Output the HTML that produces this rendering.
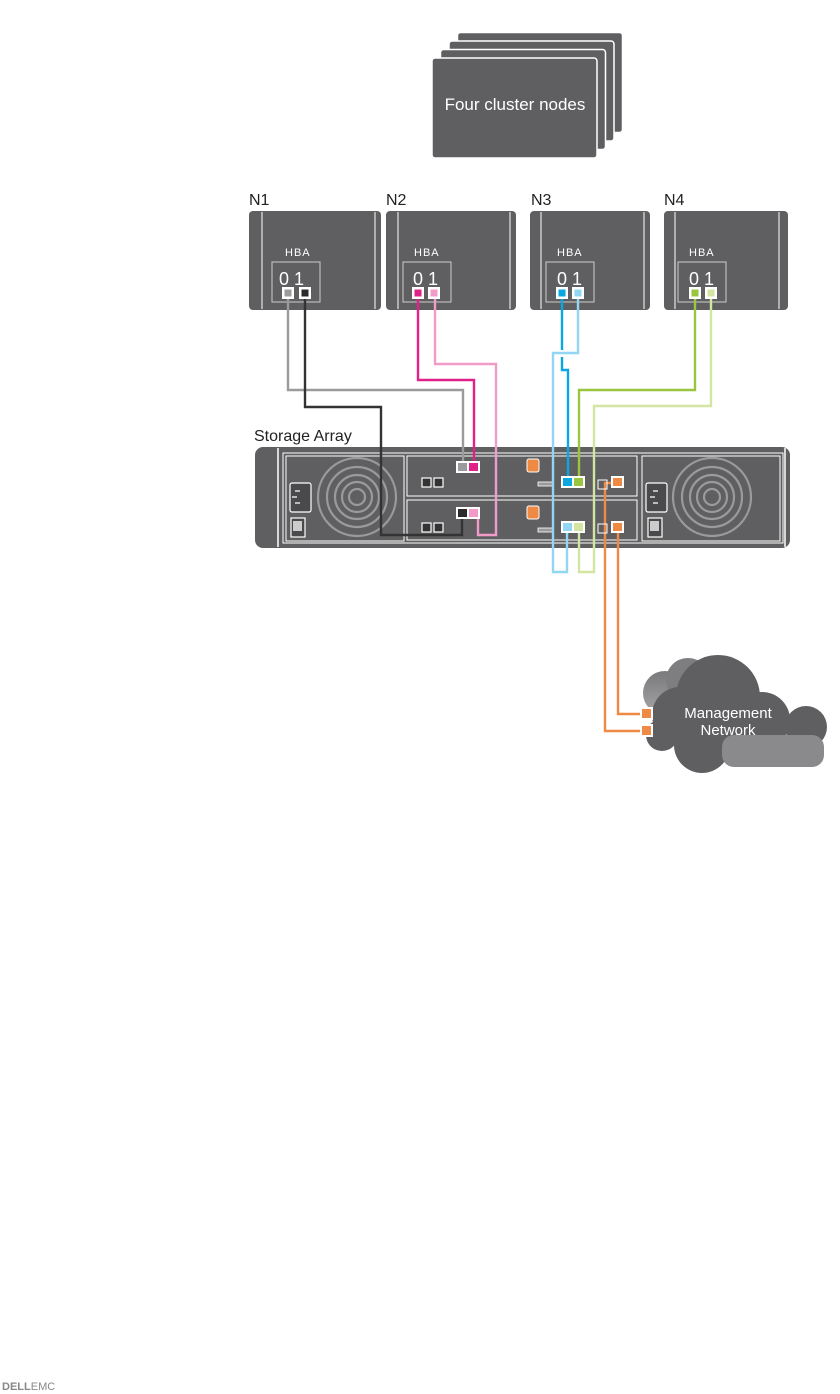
<!DOCTYPE html>
<html><head><style>body{margin:0;background:#fff}svg{display:block}text{font-family:"Liberation Sans",sans-serif}</style></head>
<body>
<svg width="840" height="1394" viewBox="0 0 840 1394" xmlns="http://www.w3.org/2000/svg">
<g fill="#5f5f61" stroke="#fff" stroke-width="1.5">
<rect x="457.5" y="32.5" width="165" height="100" rx="3"/>
<rect x="449" y="41" width="165" height="100" rx="3"/>
<rect x="440.5" y="49.5" width="165" height="100" rx="3"/>
<rect x="432" y="58" width="165" height="100" rx="3"/>
</g>
<text x="515" y="110" font-size="17" fill="#fff" text-anchor="middle">Four cluster nodes</text>

<g font-size="16" fill="#222">
<text x="249" y="205">N1</text><text x="386" y="205">N2</text><text x="531" y="205">N3</text><text x="664" y="205">N4</text>
<text x="254" y="441">Storage Array</text>
</g>

<g id="nodes">
<g><rect x="249" y="211" width="132" height="99" rx="4" fill="#5f5f61"/><path d="M262 212V309M375 212V309" stroke="#fff" stroke-width="1"/><text x="285" y="256" font-size="11" fill="#fff" letter-spacing="1">HBA</text><rect x="272" y="262" width="48" height="40" fill="none" stroke="#ccc" stroke-width="1"/><text x="279" y="285" font-size="18" fill="#fff">0 1</text><rect x="282" y="287" width="12" height="12" fill="#fff"/><rect x="284.5" y="289.5" width="7" height="7" fill="#9b9b9b"/><rect x="299" y="287" width="12" height="12" fill="#fff"/><rect x="301.5" y="289.5" width="7" height="7" fill="#2b2b2b"/></g>
<g><rect x="386" y="211" width="130" height="99" rx="4" fill="#5f5f61"/><path d="M398 212V309M510 212V309" stroke="#fff"/><text x="414" y="256" font-size="11" fill="#fff" letter-spacing="1">HBA</text><rect x="403" y="262" width="48" height="40" fill="none" stroke="#ccc"/><text x="413" y="285" font-size="18" fill="#fff">0 1</text><rect x="412" y="287" width="12" height="12" fill="#fff"/><rect x="414.5" y="289.5" width="7" height="7" fill="#e0218a"/><rect x="428" y="287" width="12" height="12" fill="#fff"/><rect x="430.5" y="289.5" width="7" height="7" fill="#f29bc9"/></g>
<g><rect x="530" y="211" width="120" height="99" rx="4" fill="#5f5f61"/><path d="M541 212V309M644 212V309" stroke="#fff"/><text x="557" y="256" font-size="11" fill="#fff" letter-spacing="1">HBA</text><rect x="546" y="262" width="48" height="40" fill="none" stroke="#ccc"/><text x="557" y="285" font-size="18" fill="#fff">0 1</text><rect x="556" y="287" width="12" height="12" fill="#fff"/><rect x="558.5" y="289.5" width="7" height="7" fill="#0aa7e0"/><rect x="572" y="287" width="12" height="12" fill="#fff"/><rect x="574.5" y="289.5" width="7" height="7" fill="#92d6f3"/></g>
<g><rect x="664" y="211" width="124" height="99" rx="4" fill="#5f5f61"/><path d="M675 212V309M779 212V309" stroke="#fff"/><text x="689" y="256" font-size="11" fill="#fff" letter-spacing="1">HBA</text><rect x="678" y="262" width="48" height="40" fill="none" stroke="#ccc"/><text x="689" y="285" font-size="18" fill="#fff">0 1</text><rect x="689" y="287" width="12" height="12" fill="#fff"/><rect x="691.5" y="289.5" width="7" height="7" fill="#9ac53f"/><rect x="705" y="287" width="12" height="12" fill="#fff"/><rect x="707.5" y="289.5" width="7" height="7" fill="#d3e5a0"/></g>
</g>

<rect x="255" y="447" width="535" height="101" rx="8" fill="#5f5f61"/>
<path d="M278 448V547M785 448V547" stroke="#fff" stroke-width="1.5"/>
<rect x="283" y="453" width="500" height="90" fill="none" stroke="#fff" stroke-width="1"/>
<rect x="286" y="456" width="118" height="85" fill="none" stroke="#fff" stroke-width="1"/>
<rect x="642" y="456" width="138" height="85" fill="none" stroke="#fff" stroke-width="1"/>
<g fill="none" stroke="#9a9a9c" stroke-width="2.2">
<circle cx="357" cy="497" r="8"/><circle cx="357" cy="497" r="15"/><circle cx="357" cy="497" r="22"/><circle cx="357" cy="497" r="30"/><circle cx="357" cy="497" r="39"/>
<circle cx="712" cy="497" r="8"/><circle cx="712" cy="497" r="15"/><circle cx="712" cy="497" r="22"/><circle cx="712" cy="497" r="30"/><circle cx="712" cy="497" r="39"/>
</g>
<g fill="#4a4a4c" stroke="#fff" stroke-width="1.2">
<rect x="290" y="483" width="21" height="29" rx="2"/><rect x="646" y="483" width="21" height="29" rx="2"/>
<rect x="291" y="518" width="14" height="19"/><rect x="648" y="518" width="14" height="19"/>
</g>
<rect x="293" y="521" width="9" height="10" fill="#ccc"/><rect x="650" y="521" width="9" height="10" fill="#ccc"/>
<path d="M295 491h5M297 497h-5M295 503h5M653 491h5M655 497h-5M653 503h5" stroke="#fff" stroke-width="1.2"/>
<rect x="407" y="456" width="230" height="40" fill="none" stroke="#fff" stroke-width="1"/>
<rect x="407" y="500" width="230" height="40" fill="none" stroke="#fff" stroke-width="1"/>
<g fill="#333" stroke="#fff" stroke-width="1.2">
<rect x="422" y="478" width="9" height="9"/><rect x="434" y="478" width="9" height="9"/>
<rect x="422" y="523" width="9" height="9"/><rect x="434" y="523" width="9" height="9"/>
</g>
<rect x="527" y="459" width="12" height="13" rx="2" fill="#ef8a45" stroke="#fff"/>
<rect x="527" y="506" width="12" height="13" rx="2" fill="#ef8a45" stroke="#fff"/>
<rect x="538" y="482" width="15" height="4" fill="#999" stroke="#fff" stroke-width=".8"/>
<rect x="538" y="528" width="15" height="4" fill="#999" stroke="#fff" stroke-width=".8"/>

<g fill="none" stroke-width="2.4">
<path d="M288 299V390H463V468" stroke="#9b9b9b"/>
<path d="M305 299V407H381V535H462V513" stroke="#333"/>
<path d="M418 299V380H474V468" stroke="#e0218a"/>
<path d="M435 299V364H496V535H478V513" stroke="#f29bc9"/>
<path d="M562 299V350M562 357V370H568V483" stroke="#0aa7e0"/>
<path d="M578 299V353H553V572H567V528" stroke="#92d6f3"/>
<path d="M695 299V390H579V483" stroke="#9ac53f"/>
<path d="M711 299V406H594V572H579V528" stroke="#d3e5a0"/>
<path d="M618 483H605V731H640" stroke="#ef8a45"/>
<path d="M618 528V714H640" stroke="#ef8a45"/>
</g>
<g stroke="#fff" stroke-width="2">
<rect x="457" y="462" width="11" height="10" fill="#9b9b9b"/><rect x="468" y="462" width="11" height="10" fill="#e0218a"/>
<rect x="457" y="508" width="11" height="10" fill="#2b2b2b"/><rect x="468" y="508" width="11" height="10" fill="#f29bc9"/>
<rect x="562" y="477" width="11" height="10" fill="#0aa7e0"/><rect x="573" y="477" width="11" height="10" fill="#9ac53f"/>
<rect x="562" y="522" width="11" height="10" fill="#92d6f3"/><rect x="573" y="522" width="11" height="10" fill="#d3e5a0"/>
<rect x="612" y="477" width="11" height="10" fill="#ef8a45"/>
<rect x="612" y="522" width="11" height="10" fill="#ef8a45"/>
</g>
<rect x="598" y="480" width="9" height="9" fill="none" stroke="#fff"/><rect x="598" y="524" width="9" height="9" fill="none" stroke="#fff"/>

<defs><linearGradient id="g" x1="0" y1="0" x2="0" y2="1"><stop offset="0" stop-color="#7a7a7c"/><stop offset="1" stop-color="#a5a5a7"/></linearGradient></defs>
<circle cx="665" cy="693" r="22" fill="url(#g)"/>
<circle cx="688" cy="680" r="22" fill="#7e7e80"/>
<g fill="#5f5f61">
<circle cx="718" cy="697" r="42"/><circle cx="680" cy="715" r="28"/><circle cx="662" cy="735" r="16"/>
<circle cx="702" cy="745" r="28"/><circle cx="762" cy="720" r="28"/><circle cx="806" cy="727" r="21"/>
</g>
<rect x="722" y="735" width="102" height="32" rx="12" fill="#8a8a8c"/>
<g stroke="#fff" stroke-width="2"><rect x="641" y="708" width="11" height="11" fill="#ef8a45"/><rect x="641" y="725" width="11" height="11" fill="#ef8a45"/></g>
<text x="728" y="718" font-size="15" fill="#fff" text-anchor="middle">Management</text>
<text x="728" y="735" font-size="15" fill="#fff" text-anchor="middle">Network</text>

<text x="2" y="1390" font-size="11" fill="#888" font-weight="bold">DELL<tspan font-weight="normal">EMC</tspan></text>
</svg>
</body></html>
